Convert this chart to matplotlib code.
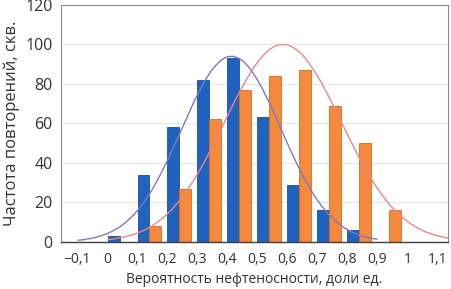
import numpy as np
import matplotlib.pyplot as plt
from matplotlib.path import Path
from matplotlib.patches import PathPatch

plt.rcParams['font.family'] = ['Open Sans', 'DejaVu Sans']

# histogram bins (left edge of each bin) and counts
bins = [0.0, 0.1, 0.2, 0.3, 0.4, 0.5, 0.6, 0.7, 0.8, 0.9]
blue_counts = [3, 34, 58, 82, 93, 63, 29, 16, 6, 0]
orange_counts = [0, 8, 27, 62, 77, 84, 87, 69, 50, 16]

# fitted curves
blue_curve_x = [-0.1, -0.05, 0.0, 0.05, 0.1, 0.15, 0.2, 0.25, 0.3, 0.35, 0.4,
                0.45, 0.5, 0.55, 0.6, 0.65, 0.7, 0.75, 0.8, 0.85, 0.9]
blue_curve_y = [0.8, 1.9, 4.3, 8.6, 15.9, 26.8, 41.3, 58.0, 74.5, 87.4, 93.7,
                91.7, 82.0, 66.9, 49.8, 33.9, 21.1, 12.0, 6.2, 2.9, 1.3]
red_curve_x = [0.0, 0.05, 0.1, 0.15, 0.2, 0.25, 0.3, 0.35, 0.4, 0.45, 0.5, 0.55,
               0.6, 0.65, 0.7, 0.75, 0.8, 0.85, 0.9, 0.95, 1.0, 1.05, 1.1, 1.15]
red_curve_y = [1.1, 2.3, 4.5, 8.3, 14.2, 22.9, 34.4, 48.4, 63.8, 78.7, 90.9, 98.4,
               99.7, 94.6, 84.0, 69.9, 54.4, 39.7, 27.1, 17.3, 10.4, 5.8, 3.1, 1.5]

xtick_vals = [-0.1, 0.0, 0.1, 0.2, 0.3, 0.4, 0.5, 0.6, 0.7, 0.8, 0.9, 1.0, 1.1]
xtick_labels = ['−0,1', '0', '0,1', '0,2', '0,3', '0,4', '0,5', '0,6', '0,7',
                '0,8', '0,9', '1', '1,1']


def smooth_path(xs, ys):
    # Catmull-Rom through the points, like a smoothed Excel line
    p = np.column_stack([xs, ys])
    p = np.vstack([p[0], p, p[-1]])
    verts = [p[1]]
    codes = [Path.MOVETO]
    for i in range(1, len(p) - 2):
        c1 = p[i] + (p[i + 1] - p[i - 1]) / 6
        c2 = p[i + 1] - (p[i + 2] - p[i]) / 6
        verts += [c1, c2, p[i + 1]]
        codes += [Path.CURVE4] * 3
    return Path(verts, codes)


fig = plt.figure(figsize=(4.52, 2.89), dpi=100)
ax = fig.add_axes([0.135, 0.163, 0.856, 0.820])

w = 0.04
ax.bar(np.array(bins), blue_counts, width=w, align='edge', color='#1f62c0',
       edgecolor='#1a4f9c', linewidth=0.6, zorder=2)
ax.bar(np.array(bins) + w, orange_counts, width=w, align='edge', color='#f5893c',
       edgecolor='#d86c22', linewidth=0.6, zorder=2)

ax.add_patch(PathPatch(smooth_path(blue_curve_x, blue_curve_y), facecolor='none',
                       edgecolor='#7a7cba', linewidth=1.0, zorder=3))
ax.add_patch(PathPatch(smooth_path(red_curve_x, red_curve_y), facecolor='none',
                       edgecolor='#e8878a', linewidth=1.0, zorder=3))

ax.set_xlim(-0.155, 1.135)
ax.set_ylim(0, 120)
ax.set_yticks(range(0, 121, 20))
ax.set_xticks(xtick_vals)
ax.set_xticklabels(xtick_labels)
ax.grid(axis='y', color='#e6e6e6', linewidth=0.8, zorder=0)
ax.set_axisbelow(True)

ax.tick_params(axis='x', length=0, pad=7, labelsize=10, colors='#333333')
ax.tick_params(axis='y', length=0, pad=6, labelsize=11.5, colors='#333333')
for s in ['top', 'right', 'left']:
    ax.spines[s].set_color('#8a8a8a')
    ax.spines[s].set_linewidth(0.8)
ax.spines['bottom'].set_color('#404040')
ax.spines['bottom'].set_linewidth(1.0)

ax.set_xlabel('Вероятность нефтеносности, доли ед.', fontsize=10, color='#333333',
              labelpad=4)
ax.set_ylabel('Частота повторений, скв.', fontsize=12, color='#333333', labelpad=4)

plt.savefig('out.png', dpi=100)
plt.close()
